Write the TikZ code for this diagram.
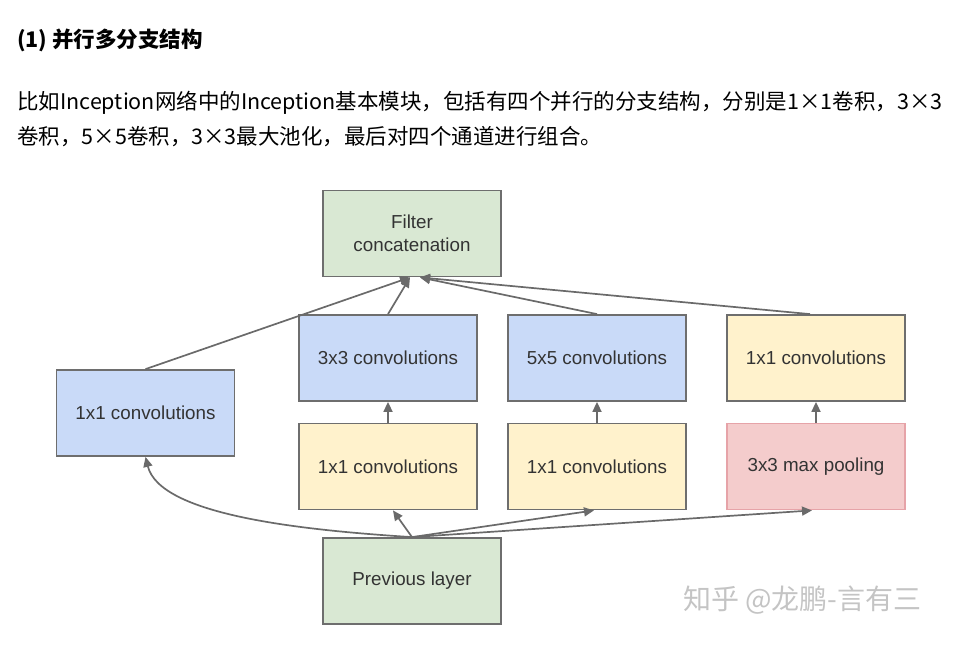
\documentclass[tikz,border=0pt]{standalone}
\usepackage{fontspec}
\setmainfont{Liberation Sans}
\newfontfamily\cjk{Noto Sans CJK SC}
\usetikzlibrary{arrows.meta}
\definecolor{edgegray}{HTML}{6E6E6E}
\definecolor{linegray}{HTML}{6A6A6A}
\definecolor{textdark}{HTML}{333333}
\definecolor{fillgreen}{HTML}{D9E8D3}
\definecolor{fillblue}{HTML}{C9DAF8}
\definecolor{fillyellow}{HTML}{FFF2CC}
\definecolor{fillpink}{HTML}{F4CCCC}
\definecolor{edgepink}{HTML}{E6A3A8}
\definecolor{marktext}{HTML}{C4C4C4}

\begin{document}
\begin{tikzpicture}[x=1pt, y=-1pt,
  box/.style={draw=edgegray, line width=1.8pt, minimum width=178pt, minimum height=86pt,
    inner sep=0pt, text=textdark, align=center, font=\fontsize{18.8}{23}\selectfont},
  link/.style={linegray, line width=1.7pt, -{Triangle[length=10pt,width=9pt]}}]
\useasboundingbox (0,0) rectangle (958,646);
% heading and text
\node[anchor=west, inner sep=0pt] (title) at (17,40) {\cjk\bfseries\fontsize{21.5}{26}\selectfont (1) 并行多分支结构};
\node[anchor=west, inner sep=0pt] (lineone) at (17,103) {\cjk\fontsize{21.5}{26}\selectfont 比如Inception网络中的Inception基本模块，包括有四个并行的分支结构，分别是1×1卷积，3×3};
\node[anchor=west, inner sep=0pt] (linetwo) at (17,137) {\cjk\fontsize{21.5}{26}\selectfont 卷积，5×5卷积，3×3最大池化，最后对四个通道进行组合。};
% boxes
\node[box, fill=fillgreen] (concat) at (412,233.5) {Filter\\concatenation};
\node[box, fill=fillblue] (convone) at (145.5,413) {1x1 convolutions};
\node[box, fill=fillblue] (convthree) at (388,358) {3x3 convolutions};
\node[box, fill=fillblue] (convfive) at (597,358) {5x5 convolutions};
\node[box, fill=fillyellow] (convproj) at (816,358) {1x1 convolutions};
\node[box, fill=fillyellow] (redthree) at (388,466.5) {1x1 convolutions};
\node[box, fill=fillyellow] (redfive) at (597,466.5) {1x1 convolutions};
\node[box, fill=fillpink, draw=edgepink] (pool) at (816,466.5) {3x3 max pooling};
\node[box, fill=fillgreen] (prev) at (412,581) {Previous layer};
% into the concatenation
\draw[link] (convone.north) -- ([xshift=-2pt]concat.south);
\draw[link] (convthree.north) -- ([xshift=-2pt]concat.south);
\draw[link] (convfive.north) -- ([xshift=8pt]concat.south);
\draw[link] ([xshift=-6pt]convproj.north) -- ([xshift=8pt]concat.south);
% inside the branches
\draw[link] (redthree.north) -- (convthree.south);
\draw[link] (redfive.north) -- (convfive.south);
\draw[link] (pool.north) -- (convproj.south);
% out of the previous layer
\draw[link] (prev.north) .. controls (300,530) and (160,515) .. (convone.south);
\draw[link] (prev.north) -- ([xshift=5pt]redthree.south);
\draw[link] (prev.north) -- ([xshift=-3pt]redfive.south);
\draw[link] (prev.north) -- ([xshift=-4pt]pool.south);
% watermark
\node[anchor=west, inner sep=0pt, text=marktext] (mark) at (683,600) {\cjk\fontsize{28}{32}\selectfont 知乎 @龙鹏-言有三};
\end{tikzpicture}
\end{document}
